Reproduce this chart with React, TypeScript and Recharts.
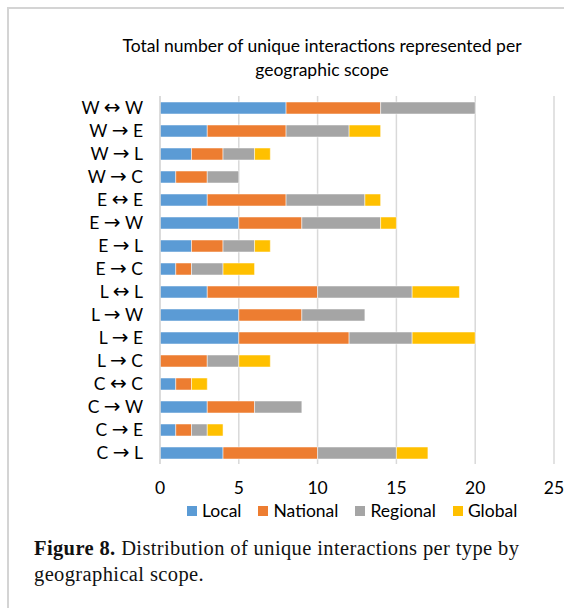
import { BarChart, Bar, XAxis, YAxis, CartesianGrid } from 'recharts';

const categories = [
  'W ↔ W', 'W → E', 'W → L', 'W → C',
  'E ↔ E', 'E → W', 'E → L', 'E → C',
  'L ↔ L', 'L → W', 'L → E', 'L → C',
  'C ↔ C', 'C → W', 'C → E', 'C → L',
];

const localVals = [8, 3, 2, 1, 3, 5, 2, 1, 3, 5, 5, 0, 1, 3, 1, 4];
const nationalVals = [6, 5, 2, 2, 5, 4, 2, 1, 7, 4, 7, 3, 1, 3, 1, 6];
const regionalVals = [6, 4, 2, 2, 5, 5, 2, 2, 6, 4, 4, 2, 0, 3, 1, 5];
const globalVals = [0, 2, 1, 0, 1, 1, 1, 2, 3, 0, 4, 2, 1, 0, 1, 2];

const xTicks = [0, 5, 10, 15, 20, 25];

const COLORS = {
  local: '#5B9BD5',
  national: '#ED7D31',
  regional: '#A5A5A5',
  glob: '#FFC000',
};

const LEGEND = [
  { name: 'Local', color: COLORS.local },
  { name: 'National', color: COLORS.national },
  { name: 'Regional', color: COLORS.regional },
  { name: 'Global', color: COLORS.glob },
];

const data = categories.map((name, i) => ({
  name,
  local: localVals[i],
  national: nationalVals[i],
  regional: regionalVals[i],
  glob: globalVals[i],
}));

const FONT = 'Lato, "Open Sans", sans-serif';
const FS = 17.5;

// category label: letters in Lato, arrow in DejaVu Sans (wider, like the original)
function CategoryTick(props: any) {
  const { x, y, payload } = props;
  const parts = String(payload.value).split(' ');
  return (
    <text x={x} y={y} dy={6} textAnchor="end" fill="#000" style={{ fontFamily: FONT, fontSize: FS }}>
      <tspan>{parts[0]} </tspan>
      <tspan style={{ fontFamily: '"DejaVu Sans"', fontSize: 20 }}>{parts[1]}</tspan>
      <tspan> {parts[2]}</tspan>
    </text>
  );
}

export default function App() {
  return (
    <div
      style={{
        position: 'fixed',
        left: 0,
        top: 0,
        width: 564,
        height: 608,
        background: '#fff',
        overflow: 'hidden',
      }}
    >
      {/* frame */}
      <div
        style={{
          position: 'absolute',
          left: 7,
          top: 7,
          width: 600,
          height: 640,
          border: '2px solid #d4d4d4',
        }}
      />

      {/* chart title */}
      <div
        style={{
          position: 'absolute',
          left: 100,
          width: 444,
          top: 34,
          textAlign: 'center',
          fontFamily: FONT,
          fontSize: FS,
          lineHeight: '24px',
          color: '#000',
        }}
      >
        Total number of unique interactions represented per
        <br />
        geographic scope
      </div>

      <div style={{ position: 'absolute', left: 0, top: 0 }}>
        <BarChart
          width={564}
          height={530}
          data={data}
          layout="vertical"
          barSize={12}
          margin={{ top: 96, right: 10, bottom: 36, left: 0 }}
        >
          <CartesianGrid horizontal={false} stroke="#d9d9d9" strokeWidth={1.5} />
          <XAxis
            type="number"
            domain={[0, 25]}
            ticks={xTicks}
            axisLine={false}
            tickLine={false}
            tickSize={0}
            tickMargin={18}
            height={30}
            tick={{ fill: '#000', fontSize: FS, fontFamily: FONT }}
          />
          <YAxis
            type="category"
            dataKey="name"
            width={160}
            axisLine={{ stroke: '#d9d9d9', strokeWidth: 1.5 }}
            tickLine={false}
            tickSize={0}
            tickMargin={17}
            interval={0}
            tick={CategoryTick}
          />
          <Bar dataKey="local" stackId="a" fill={COLORS.local} stroke="#ffffff" strokeWidth={0.5} isAnimationActive={false} />
          <Bar dataKey="national" stackId="a" fill={COLORS.national} stroke="#ffffff" strokeWidth={0.5} isAnimationActive={false} />
          <Bar dataKey="regional" stackId="a" fill={COLORS.regional} stroke="#ffffff" strokeWidth={0.5} isAnimationActive={false} />
          <Bar dataKey="glob" stackId="a" fill={COLORS.glob} stroke="#ffffff" strokeWidth={0.5} isAnimationActive={false} />
        </BarChart>
      </div>

      {/* legend */}
      <div
        style={{
          position: 'absolute',
          left: 187,
          top: 500,
          display: 'flex',
          alignItems: 'center',
          fontFamily: FONT,
          fontSize: FS,
          lineHeight: '22px',
          color: '#000',
        }}
      >
        {LEGEND.map((s) => (
          <div key={s.name} style={{ display: 'flex', alignItems: 'center', marginRight: 17 }}>
            <div style={{ width: 10, height: 10, background: s.color, marginRight: 5 }} />
            <span>{s.name}</span>
          </div>
        ))}
      </div>

      {/* caption */}
      <div
        style={{
          position: 'absolute',
          left: 34,
          top: 535,
          width: 530,
          whiteSpace: 'nowrap',
          fontFamily: '"Liberation Serif", "DejaVu Serif", serif',
          fontSize: 20.5,
          letterSpacing: 0.38,
          lineHeight: '26px',
          color: '#111',
        }}
      >
        <b>Figure 8.</b> Distribution of unique interactions per type by
        <br />
        geographical scope.
      </div>
    </div>
  );
}
